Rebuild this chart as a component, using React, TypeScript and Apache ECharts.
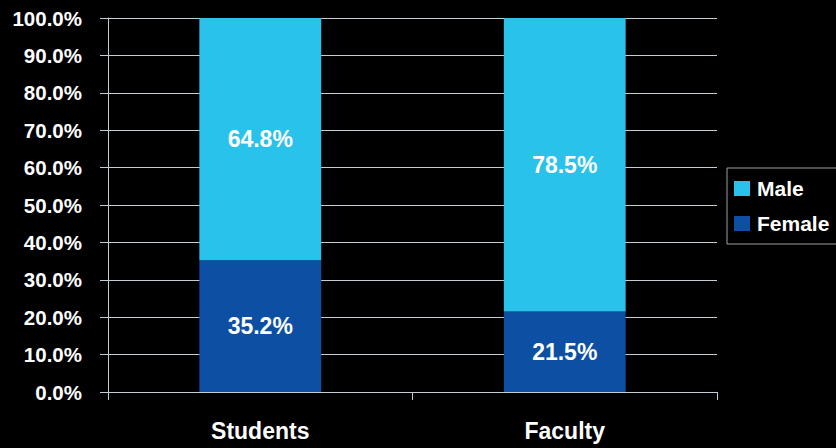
import React, { useEffect, useRef } from "react";
import * as echarts from "echarts";

const categories = ["Students", "Faculty"];
const femaleValues = [35.2, 21.5];
const maleValues = [64.8, 78.5];
const yTicks = [0, 10, 20, 30, 40, 50, 60, 70, 80, 90, 100];

export default function App() {
  const ref = useRef<HTMLDivElement>(null);
  useEffect(() => {
    document.body.style.margin = "0";
    document.body.style.background = "#000";
    const chart = echarts.init(ref.current!, null, { renderer: "svg" });
    const font = "Liberation Sans, Arial, sans-serif";
    const narrow = "Liberation Sans Narrow, Arial Narrow, Liberation Sans, sans-serif";
    const gridColor = "#c4ccd4";
    const dataLabel = {
      show: true,
      position: "inside",
      color: "#ffffff",
      fontSize: 23,
      fontWeight: "bold",
      fontFamily: narrow,
      formatter: (p: any) => p.value.toFixed(1) + "%",
    };
    chart.setOption({
      animation: false,
      backgroundColor: "#000000",
      grid: { left: 108, right: 119, top: 18, bottom: 56, containLabel: false },
      legend: {
        data: ["Male", "Female"],
        orient: "vertical",
        left: 727,
        top: 168,
        itemWidth: 16,
        itemHeight: 15,
        itemGap: 14,
        padding: [10, 8, 10, 7],
        borderColor: "#9aa0a6",
        borderWidth: 1,
        icon: "rect",
        textStyle: { color: "#ffffff", fontSize: 21, fontWeight: "bold", fontFamily: font, padding: [0, 0, 0, 2] },
      },
      xAxis: {
        type: "category",
        data: categories,
        axisLine: { lineStyle: { color: gridColor, width: 1 } },
        axisTick: { show: true, length: 8, lineStyle: { color: gridColor } },
        axisLabel: { color: "#ffffff", fontSize: 23, fontWeight: "bold", fontFamily: font, margin: 27 },
      },
      yAxis: {
        type: "value",
        min: 0,
        max: 100,
        interval: 10,
        axisLine: { show: true, lineStyle: { color: gridColor, width: 1 } },
        axisTick: { show: true, length: 8, lineStyle: { color: gridColor } },
        splitLine: { show: true, lineStyle: { color: gridColor, width: 1 } },
        axisLabel: {
          color: "#ffffff",
          fontSize: 20.5,
          fontWeight: "bold",
          fontFamily: font,
          margin: 26,
          formatter: (v: number) => (yTicks.includes(v) ? v.toFixed(1) + "%" : ""),
        },
      },
      series: [
        {
          name: "Female",
          type: "bar",
          stack: "total",
          data: femaleValues,
          barWidth: "40%",
          itemStyle: { color: "#0c4fa3" },
          label: dataLabel,
        },
        {
          name: "Male",
          type: "bar",
          stack: "total",
          data: maleValues,
          barWidth: "40%",
          itemStyle: { color: "#29c2ea" },
          label: dataLabel,
        },
      ],
    });
    return () => chart.dispose();
  }, []);
  return <div ref={ref} style={{ width: 836, height: 448, position: "absolute", left: 0, top: 0 }} />;
}
